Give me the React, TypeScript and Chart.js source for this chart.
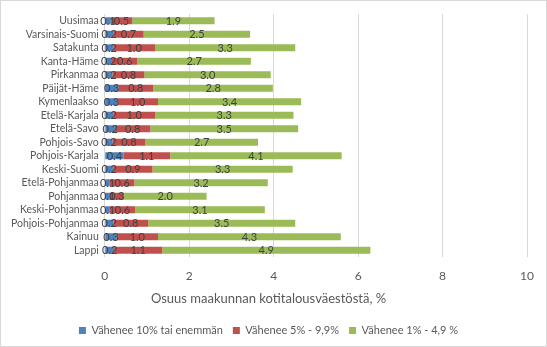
import React, { useEffect, useRef } from "react";
import { Chart, registerables } from "chart.js";

Chart.register(...registerables);

const categories = [
  "Uusimaa", "Varsinais-Suomi", "Satakunta", "Kanta-Häme", "Pirkanmaa", "Päijät-Häme",
  "Kymenlaakso", "Etelä-Karjala", "Etelä-Savo", "Pohjois-Savo", "Pohjois-Karjala",
  "Keski-Suomi", "Etelä-Pohjanmaa", "Pohjanmaa", "Keski-Pohjanmaa", "Pohjois-Pohjanmaa",
  "Kainuu", "Lappi",
];
const blueValues = [0.14, 0.2, 0.2, 0.17, 0.18, 0.32, 0.3, 0.2, 0.24, 0.18, 0.44, 0.2, 0.12, 0.12, 0.12, 0.2, 0.28, 0.22];
const redValues = [0.51, 0.72, 0.99, 0.6, 0.76, 0.83, 0.96, 0.99, 0.84, 0.78, 1.11, 0.93, 0.58, 0.33, 0.6, 0.83, 0.98, 1.14];
const greenValues = [1.95, 2.52, 3.32, 2.69, 2.99, 2.83, 3.39, 3.28, 3.5, 2.67, 4.06, 3.32, 3.16, 1.96, 3.07, 3.48, 4.33, 4.93];
const seriesNames = ["Vähenee 10% tai enemmän", "Vähenee 5% - 9,9%", "Vähenee 1% - 4,9 %"];
const axisTitle = "Osuus maakunnan kotitalousväestöstä, %";

const FONT = "Lato, 'Open Sans', sans-serif";

const labelPlugin = {
  id: "segLabels",
  afterDatasetsDraw(chart: any) {
    const ctx = chart.ctx;
    ctx.save();
    ctx.font = `11px ${FONT}`;
    ctx.fillStyle = "#404040";
    ctx.textAlign = "center";
    ctx.textBaseline = "middle";
    chart.data.datasets.forEach((ds: any, di: number) => {
      const meta = chart.getDatasetMeta(di);
      meta.data.forEach((el: any, i: number) => {
        const v = ds.data[i];
        const x = (el.x + el.base) / 2;
        ctx.fillText(Number(v).toFixed(1), x, el.y + 0.5);
      });
    });
    ctx.restore();
  },
};

export default function App() {
  const ref = useRef<HTMLCanvasElement>(null);
  useEffect(() => {
    document.body.style.margin = "0";
    const chart = new Chart(ref.current!, {
      type: "bar",
      data: {
        labels: categories,
        datasets: [
          { label: seriesNames[0], data: blueValues, backgroundColor: "#4F81BD" },
          { label: seriesNames[1], data: redValues, backgroundColor: "#C0504D" },
          { label: seriesNames[2], data: greenValues, backgroundColor: "#9BBB59" },
        ],
      },
      options: {
        indexAxis: "y",
        animation: false,
        responsive: false,
        maintainAspectRatio: false,
        datasets: { bar: { barPercentage: 0.52, categoryPercentage: 1 } },
        layout: { padding: { top: 13, right: 14, left: 4, bottom: 0 } },
        scales: {
          x: {
            stacked: true,
            min: 0,
            max: 10,
            ticks: { stepSize: 2, color: "#595959", font: { family: FONT, size: 12 }, padding: 12 },
            grid: { color: "#d9d9d9", drawTicks: false },
            border: { display: false },
          },
          y: {
            stacked: true,
            ticks: { color: "#595959", font: { family: FONT, size: 10.5 }, padding: 6, autoSkip: false },
            grid: { display: false, drawTicks: false },
            border: { display: false },
          },
        },
        plugins: {
          title: {
            display: true,
            position: "bottom",
            weight: 500,
            text: axisTitle,
            color: "#595959",
            font: { family: FONT, size: 13, weight: "normal" },
            padding: { top: -4, bottom: 8 },
          },
          legend: {
            position: "bottom",
            labels: {
              boxWidth: 7,
              boxHeight: 7,
              color: "#595959",
              font: { family: FONT, size: 11 },
              padding: 10,
            },
          },
          tooltip: { enabled: false },
        },
      },
      plugins: [labelPlugin],
    });
    return () => chart.destroy();
  }, []);
  return (
    <div style={{ width: 547, height: 347, border: "1px solid #d9d9d9", boxSizing: "border-box", background: "#fff" }}>
      <canvas ref={ref} width={545} height={345} style={{ display: "block" }} />
    </div>
  );
}
